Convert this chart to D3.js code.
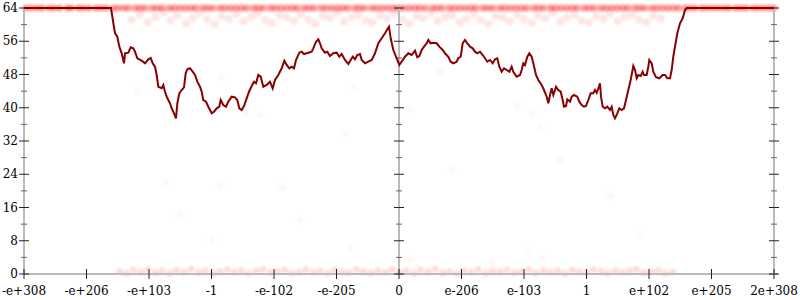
<!DOCTYPE html>
<html>
<head>
<meta charset="utf-8">
<script src="https://cdn.jsdelivr.net/npm/d3@7"></script>
<style>
  body { margin: 0; background: #fff; }
  svg text { font-family: "DejaVu Serif", serif; font-size: 12px; fill: #000; }
</style>
</head>
<body>
<svg id="chart" width="800" height="300"></svg>
<script>
// x is the position in float ordering, tick labels name the values there
var xTicks = [-6, -5, -4, -3, -2, -1, 0, 1, 2, 3, 4, 5, 6];
var xTickLabels = ["-e+308", "-e+206", "-e+103", "-1", "-e-102", "-e-205", "0",
                   "e-206", "e-103", "1", "e+102", "e+205", "2e+308"];
var yTicks = [0, 8, 16, 24, 32, 40, 48, 56, 64];
var yMinorTicks = [4, 12, 20, 28, 36, 44, 52, 60];
var vAxes = [-6, 0, 6];

// averaged bits of error [x, bits]
var errLine = [
  [-6, 64], [-4.608, 64], [-4.571, 60.39], [-4.544, 57.98], [-4.507, 57.09], [-4.475, 54.69],
  [-4.437, 53.10], [-4.40, 50.69], [-4.384, 53.10], [-4.331, 53.25], [-4.293, 54.55], [-4.251, 54.30],
  [-4.224, 53.49], [-4.187, 51.90], [-4.117, 51.32], [-4.064, 50.69], [-4.011, 51.66], [-3.973, 51.97],
  [-3.941, 50.69], [-3.904, 49.88], [-3.877, 47.88], [-3.851, 45.06], [-3.797, 44.68], [-3.771, 45.47],
  [-3.744, 43.86], [-3.717, 42.66], [-3.691, 41.86], [-3.664, 41.07], [-3.637, 39.87], [-3.60, 38.66],
  [-3.568, 37.46], [-3.547, 41.07], [-3.515, 43.48], [-3.477, 44.27], [-3.44, 44.92], [-3.413, 48.29],
  [-3.387, 49.25], [-3.344, 49.49], [-3.301, 48.67], [-3.264, 47.88], [-3.227, 46.27], [-3.184, 45.06],
  [-3.157, 43.86], [-3.131, 41.86], [-3.088, 41.46], [-3.051, 40.25], [-2.997, 38.66], [-2.96, 39.05],
  [-2.917, 39.87], [-2.875, 40.25], [-2.853, 41.86], [-2.811, 40.66], [-2.768, 40.25], [-2.731, 41.46],
  [-2.677, 42.66], [-2.624, 42.51], [-2.587, 41.86], [-2.555, 39.87], [-2.517, 39.46], [-2.48, 40.42],
  [-2.437, 42.27], [-2.40, 43.86], [-2.357, 45.23], [-2.32, 46.27], [-2.288, 45.88], [-2.251, 47.88],
  [-2.213, 47.47], [-2.171, 45.06], [-2.117, 45.47], [-2.064, 46.27], [-2.021, 44.68], [-1.984, 46.68],
  [-1.931, 47.88], [-1.877, 49.49], [-1.835, 51.32], [-1.797, 50.29], [-1.755, 49.49], [-1.717, 49.88],
  [-1.68, 49.49], [-1.648, 51.49], [-1.595, 53.25], [-1.557, 53.49], [-1.52, 52.93], [-1.451, 53.25],
  [-1.397, 53.49], [-1.371, 54.30], [-1.328, 55.89], [-1.291, 56.47], [-1.264, 55.51], [-1.237, 54.30],
  [-1.184, 53.25], [-1.147, 53.49], [-1.104, 52.45], [-1.051, 53.10], [-0.997, 53.25], [-0.955, 52.28],
  [-0.917, 52.93], [-0.864, 51.49], [-0.811, 50.53], [-0.773, 51.49], [-0.741, 52.28], [-0.704, 51.66],
  [-0.667, 52.69], [-0.624, 52.93], [-0.597, 51.49], [-0.544, 50.69], [-0.491, 51.08], [-0.437, 51.49],
  [-0.384, 53.10], [-0.331, 55.51], [-0.277, 56.71], [-0.224, 57.91], [-0.187, 58.87], [-0.16, 59.50],
  [-0.133, 56.71], [-0.091, 53.89], [-0.037, 51.90], [0.005, 50.29], [0.043, 51.08], [0.096, 52.28],
  [0.149, 53.10], [0.203, 52.69], [0.256, 53.73], [0.293, 52.14], [0.325, 52.45], [0.363, 53.89],
  [0.40, 54.69], [0.443, 55.51], [0.469, 56.30], [0.507, 55.51], [0.549, 55.65], [0.603, 55.51],
  [0.645, 54.69], [0.699, 53.89], [0.736, 53.10], [0.789, 52.28], [0.827, 51.08], [0.869, 50.69],
  [0.923, 51.08], [0.949, 51.90], [0.987, 52.28], [1.019, 55.51], [1.056, 56.30], [1.093, 55.51],
  [1.136, 54.69], [1.179, 54.30], [1.216, 53.49], [1.253, 53.10], [1.296, 53.49], [1.339, 52.69],
  [1.376, 51.90], [1.413, 51.08], [1.456, 51.49], [1.499, 50.69], [1.536, 51.66], [1.573, 51.90],
  [1.605, 49.88], [1.643, 48.67], [1.68, 49.49], [1.723, 49.08], [1.765, 48.67], [1.803, 49.88],
  [1.829, 48.67], [1.883, 47.47], [1.936, 47.88], [1.963, 49.08], [1.989, 50.69], [2.016, 50.29],
  [2.053, 52.28], [2.085, 53.10], [2.123, 52.28], [2.149, 50.69], [2.192, 47.88], [2.229, 46.68],
  [2.283, 45.47], [2.32, 44.27], [2.363, 42.66], [2.389, 41.07], [2.416, 43.07], [2.443, 44.68],
  [2.469, 43.07], [2.512, 45.06], [2.549, 44.27], [2.587, 43.86], [2.619, 41.86], [2.64, 40.25],
  [2.672, 40.42], [2.693, 42.03], [2.736, 41.46], [2.763, 42.66], [2.80, 43.07], [2.853, 42.66],
  [2.885, 41.46], [2.923, 40.66], [2.96, 40.25], [2.992, 40.42], [3.029, 41.86], [3.067, 43.48],
  [3.109, 43.48], [3.136, 44.27], [3.163, 43.62], [3.189, 44.68], [3.216, 45.88], [3.232, 42.66],
  [3.259, 40.25], [3.296, 39.87], [3.333, 40.25], [3.376, 39.46], [3.403, 40.25], [3.429, 38.26],
  [3.456, 37.46], [3.493, 38.66], [3.525, 39.87], [3.563, 39.46], [3.60, 39.87], [3.632, 41.86],
  [3.669, 44.27], [3.707, 46.68], [3.749, 50.04], [3.776, 49.08], [3.803, 47.09], [3.829, 47.88],
  [3.867, 47.64], [3.899, 48.67], [3.92, 47.88], [3.963, 47.88], [3.989, 49.88], [4.005, 51.49],
  [4.043, 50.69], [4.069, 48.67], [4.112, 47.33], [4.165, 47.09], [4.219, 47.88], [4.256, 47.88],
  [4.293, 47.09], [4.336, 47.09], [4.363, 49.08], [4.389, 52.28], [4.416, 54.69], [4.453, 57.91],
  [4.496, 60.32], [4.539, 61.52], [4.576, 63.52], [4.603, 64], [6, 64]
];

// sampled points: those at 64 bits (x only)
var topX = [
  -5.97, -5.88, -5.79, -5.71, -5.6, -5.52, -5.43, -5.31, -5.24, -5.13, -5.05, -4.96, -4.85, -4.77,
  -4.69, -4.58, -4.5, -4.41, -4.33, -4.22, -4.14, -4.06, -3.95, -3.87, -3.79, -3.68, -3.6, -3.51,
  -3.42, -3.33, -3.25, -3.14, -3.06, -2.98, -2.87, -2.79, -2.7, -2.61, -2.52, -2.44, -2.33, -2.25,
  -2.17, -2.06, -1.98, -1.89, -1.8, -1.71, -1.63, -1.52, -1.44, -1.36, -1.25, -1.17, -1.08, -0.99,
  -0.9, -0.82, -0.71, -0.63, -0.55, -0.44, -0.36, -0.27, -0.18, -0.09, -0.01, 0.07, 0.16, 0.25,
  0.33, 0.42, 0.53, 0.61, 0.69, 0.8, 0.88, 0.97, 1.06, 1.15, 1.23, 1.34, 1.42, 1.5, 1.61, 1.69,
  1.78, 1.87, 1.96, 2.04, 2.15, 2.23, 2.31, 2.42, 2.5, 2.59, 2.68, 2.77, 2.85, 2.96, 3.04, 3.12,
  3.23, 3.31, 3.4, 3.49, 3.58, 3.66, 3.77, 3.85, 3.93, 4.04, 4.12, 4.21, 4.3, 4.39, 4.47, 4.58,
  4.66, 4.74, 4.85, 4.93, 5.02, 5.11, 5.2, 5.28, 5.39, 5.47, 5.55, 5.66, 5.74, 5.83, 5.92, 6.0
];

// sampled points just below 64 bits [x, bits]
var highPts = [
  [-4.28, 61.2], [-4.15, 62.4], [-4.02, 60.6], [-3.9, 61.8], [-3.77, 62.9], [-3.66, 61.0], [-3.55, 62.2],
  [-3.41, 60.3], [-3.3, 61.6], [-3.19, 62.7], [-3.07, 61.3], [-2.95, 60.1], [-2.84, 62.0], [-2.72, 61.4],
  [-2.6, 62.6], [-2.49, 60.8], [-2.37, 61.9], [-2.26, 62.8], [-2.14, 61.1], [-2.03, 60.4], [-1.91, 62.3],
  [-1.8, 61.7], [-1.68, 60.9], [-1.57, 62.5], [-1.45, 61.3], [-1.34, 60.2], [-1.22, 62.1], [-1.11, 61.6],
  [-0.99, 62.9], [-0.88, 60.7], [-0.76, 61.8], [-0.65, 62.4], [-0.53, 61.0], [-0.42, 60.5], [-0.3, 62.2],
  [-0.19, 61.5], [-0.07, 62.7], [0.05, 61.2], [0.16, 60.3], [0.28, 62.0], [0.39, 61.6], [0.51, 62.8],
  [0.62, 60.9], [0.74, 61.9], [0.85, 62.4], [0.97, 60.6], [1.08, 61.4], [1.2, 62.6], [1.31, 61.1],
  [1.43, 60.2], [1.54, 62.1], [1.66, 61.7], [1.77, 60.8], [1.89, 62.5], [2.0, 61.3], [2.12, 60.4],
  [2.23, 62.2], [2.35, 61.5], [2.46, 62.9], [2.58, 60.7], [2.69, 61.8], [2.81, 62.3], [2.92, 61.0],
  [3.04, 60.5], [3.15, 62.0], [3.27, 61.4], [3.38, 62.7], [3.5, 60.9], [3.61, 61.9], [3.73, 62.4],
  [3.84, 61.2], [3.96, 60.6], [4.07, 62.1], [4.19, 61.5]
];

// sampled points near 0 bits [x, bits]
var lowPts = [
  [-4.47, 0.6], [-4.36, 0.2], [-4.25, 0.9], [-4.13, 0.4], [-4.02, 1.1], [-3.9, 0.3], [-3.79, 0.7],
  [-3.67, 0.1], [-3.56, 0.9], [-3.44, 0.5], [-3.33, 1.2], [-3.21, 0.3], [-3.1, 0.8], [-2.98, 0.2],
  [-2.87, 0.6], [-2.75, 1.0], [-2.64, 0.4], [-2.52, 0.8], [-2.41, 0.2], [-2.29, 0.7], [-2.18, 1.1],
  [-2.06, 0.3], [-1.95, 0.6], [-1.83, 0.9], [-1.72, 0.2], [-1.6, 0.5], [-1.49, 1.0], [-1.37, 0.4],
  [-1.26, 0.7], [-1.14, 0.1], [-1.03, 0.9], [-0.91, 0.5], [-0.8, 0.3], [-0.68, 1.1], [-0.57, 0.6],
  [-0.45, 0.2], [-0.34, 0.8], [-0.22, 0.4], [-0.11, 1.0], [0.01, 0.3], [0.12, 0.7], [0.24, 0.2],
  [0.35, 0.9], [0.47, 0.5], [0.58, 1.2], [0.7, 0.3], [0.81, 0.6], [0.93, 0.1], [1.04, 0.8],
  [1.16, 0.4], [1.27, 1.0], [1.39, 0.2], [1.5, 0.7], [1.62, 0.5], [1.73, 0.9], [1.85, 0.3],
  [1.96, 0.6], [2.08, 1.1], [2.19, 0.2], [2.31, 0.8], [2.42, 0.4], [2.54, 0.7], [2.65, 0.1],
  [2.77, 0.9], [2.88, 0.5], [3.0, 0.3], [3.11, 1.0], [3.23, 0.6], [3.34, 0.2], [3.46, 0.8],
  [3.57, 0.4], [3.69, 0.7], [3.8, 1.1], [3.92, 0.3], [4.03, 0.6], [4.15, 0.9], [4.26, 0.2], [4.38, 0.5]
];

// the few scattered points in between [x, bits]
var midPts = [
  [-4.18, 44.0], [-2.84, 47.3], [-2.45, 38.7], [0.66, 48.6], [-0.72, 45.0], [1.89, 40.7], [2.14, 38.7],
  [2.27, 35.1], [-3.73, 22.1], [-2.86, 21.2], [-1.87, 20.9], [-0.86, 33.7], [0.85, 25.0], [2.58, 27.4],
  [3.38, 18.8], [0.18, 3.4], [0.28, 1.8], [1.5, 2.6], [2.06, 5.3], [2.3, 3.8], [-0.78, 6.3],
  [-1.58, 13.0], [3.86, 9.4], [0.18, 39.5], [-2.22, 38.3], [-2.99, 8.2], [-3.5, 14.2]
];

var svg = d3.select("#chart");
var x = d3.scaleLinear().domain([-6, 6]).range([24, 774]);
var y = d3.scaleLinear().domain([0, 64]).range([274, 8]);

// soft edges for the sample dots
svg.append("defs")
    .append("filter")
        .attr("id", "soft")
        .attr("x", "-5%").attr("y", "-20%")
        .attr("width", "110%").attr("height", "140%")
    .append("feGaussianBlur")
        .attr("stdDeviation", 1.2);

var dotLayer = svg.append("g").attr("filter", "url(#soft)");

// Points
function dots(data, r, op) {
    dotLayer.append("g")
        .selectAll("circle")
        .data(data)
        .enter()
        .append("circle")
            .attr("cx", function(d) { return x(d[0]); })
            .attr("cy", function(d) { return y(d[1]); })
            .attr("r", r)
            .attr("fill", "red")
            .attr("fill-opacity", op);
}
dots(topX.map(function(v) { return [v, 64]; }), 3.5, 0.4);
dots(highPts, 4, 0.1);
dots(lowPts, 3.5, 0.14);
dots(midPts, 3.5, 0.035);

// Axes
var axes = svg.append("g");
axes.append("line")
    .attr("x1", x(-6)).attr("x2", x(6) + 4)
    .attr("y1", y(0)).attr("y2", y(0))
    .attr("stroke", "#bbb").attr("stroke-width", 2);
vAxes.forEach(function(v) {
    axes.append("line")
        .attr("x1", x(v)).attr("x2", x(v))
        .attr("y1", y(0)).attr("y2", y(64))
        .attr("stroke", "#bbb").attr("stroke-width", 2);
    axes.selectAll(null)
        .data(yTicks)
        .enter()
        .append("line")
            .attr("x1", x(v) - 5).attr("x2", x(v) + 5)
            .attr("y1", function(d) { return y(d); })
            .attr("y2", function(d) { return y(d); })
            .attr("stroke", "#222").attr("stroke-width", 1);
    axes.selectAll(null)
        .data(yMinorTicks)
        .enter()
        .append("line")
            .attr("x1", x(v) - 3).attr("x2", x(v) + 3)
            .attr("y1", function(d) { return y(d); })
            .attr("y2", function(d) { return y(d); })
            .attr("stroke", "#666").attr("stroke-width", 1);
});
axes.selectAll(null)
    .data(xTicks)
    .enter()
    .append("line")
        .attr("x1", function(d) { return x(d); })
        .attr("x2", function(d) { return x(d); })
        .attr("y1", y(0) - 5).attr("y2", y(0) + 5)
        .attr("stroke", "#222").attr("stroke-width", 1);

// Labels
axes.selectAll(null)
    .data(yTicks)
    .enter()
    .append("text")
        .attr("x", x(-6) - 6)
        .attr("y", function(d) { return y(d); })
        .attr("dy", "0.35em")
        .style("text-anchor", "end")
        .text(function(d) { return d; });
axes.selectAll(null)
    .data(xTicks)
    .enter()
    .append("text")
        .attr("x", function(d) { return x(d); })
        .attr("y", 295)
        .style("text-anchor", "middle")
        .text(function(d, i) { return xTickLabels[i]; });

// Error line
svg.append("path")
    .datum(errLine)
    .attr("d", d3.line()
        .x(function(d) { return x(d[0]); })
        .y(function(d) { return y(d[1]); }))
    .attr("fill", "none")
    .attr("stroke", "#880000")
    .attr("stroke-width", 2);
</script>
</body>
</html>
